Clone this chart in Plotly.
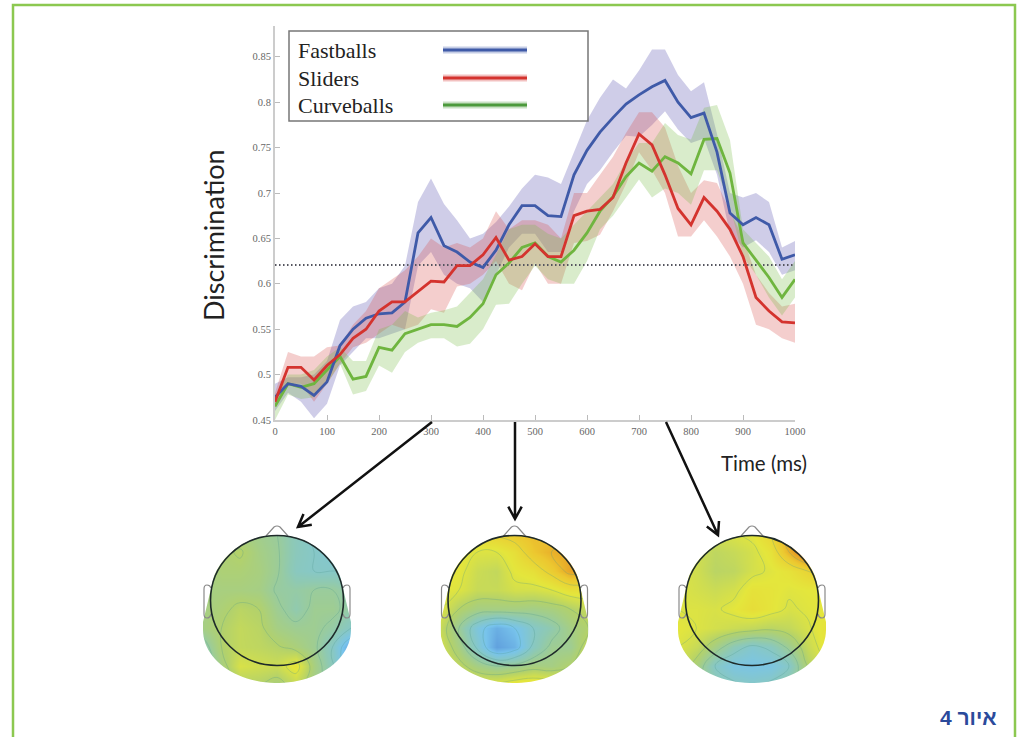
import numpy as np
import plotly.graph_objects as go

W, H = 1022, 737
times = list(range(0, 1001, 25))
fast_mean = [.475,.49,.487,.477,.492,.532,.55,.562,.567,.568,.58,.656,.673,.642,.635,.624,.618,.637,.665,.686,.686,.675,.674,.72,.747,.767,.783,.798,.808,.817,.824,.80,.783,.788,.745,.678,.665,.673,.665,.627,.632]
fast_up = [.49,.497,.497,.50,.515,.56,.575,.58,.595,.60,.62,.69,.716,.688,.67,.65,.655,.668,.685,.705,.72,.717,.71,.745,.78,.805,.825,.815,.835,.858,.858,.83,.812,.822,.765,.70,.695,.70,.69,.64,.647]
fast_lo = [.46,.48,.47,.452,.468,.51,.525,.54,.54,.545,.55,.62,.635,.61,.60,.595,.58,.61,.64,.655,.655,.635,.635,.68,.71,.725,.745,.763,.762,.775,.79,.77,.755,.76,.72,.655,.64,.648,.635,.61,.615]
slid_mean = [.47,.508,.508,.494,.51,.522,.54,.55,.57,.58,.58,.592,.603,.602,.62,.62,.632,.651,.626,.63,.644,.63,.63,.675,.68,.682,.695,.733,.765,.753,.72,.683,.665,.695,.68,.66,.63,.585,.57,.558,.557]
slid_up = [.48,.525,.52,.52,.53,.532,.555,.57,.595,.605,.615,.63,.65,.64,.645,.64,.65,.68,.66,.67,.67,.665,.65,.70,.70,.72,.74,.766,.789,.789,.772,.73,.70,.714,.711,.68,.65,.61,.59,.575,.578]
slid_lo = [.465,.49,.49,.47,.49,.512,.53,.535,.545,.555,.55,.555,.572,.568,.597,.60,.61,.625,.60,.593,.623,.60,.60,.645,.647,.654,.68,.71,.745,.725,.70,.652,.652,.67,.652,.63,.60,.555,.55,.54,.535]
curv_mean = [.465,.49,.486,.49,.505,.52,.495,.498,.53,.527,.545,.55,.555,.555,.553,.563,.578,.61,.623,.64,.645,.63,.624,.637,.656,.68,.696,.718,.733,.724,.74,.733,.721,.759,.76,.722,.645,.626,.607,.585,.605]
curv_up = [.475,.50,.50,.505,.52,.53,.515,.515,.55,.555,.57,.563,.568,.571,.575,.59,.605,.632,.66,.665,.665,.655,.65,.665,.68,.695,.71,.735,.755,.755,.777,.764,.759,.794,.797,.758,.66,.645,.63,.605,.625]
curv_lo = [.45,.478,.473,.475,.49,.512,.478,.482,.51,.502,.525,.535,.54,.54,.531,.534,.55,.577,.578,.60,.62,.605,.60,.60,.625,.66,.675,.695,.715,.695,.705,.70,.687,.725,.725,.685,.63,.61,.585,.565,.585]
chance_level = 0.6207

y_ticks = [.45,.5,.55,.6,.65,.7,.75,.8,.85]
y_tick_labels = ["0.45","0.5","0.55","0.6","0.65","0.7","0.75","0.8","0.85"]
x_ticks = list(range(0, 1001, 100))
legend_names = ["Fastballs", "Sliders", "Curveballs"]

# scalp maps: estimated colour level on a coarse grid (rows top to bottom)
scalp_dx = [-74,-55.5,-37,-18.5,0,18.5,37,55.5,74]
scalp_y = [533,552,571,590,609,628,647,666,685]
scalp_300 = [
 [4.5,4.5,4.5,4.3,4,3.3,2.8,2.2,2],
 [4.5,4.8,5.1,4.5,4.1,3.3,3,2.7,2.3],
 [4.5,4.8,4.8,4.6,4.1,3.2,3.0,3,3],
 [4.5,4.6,4.6,4.5,3.9,3.8,4,4,3.5],
 [4.5,4.8,5.2,5.0,4.2,3.6,4.2,4.2,3.7],
 [4.5,5.0,5.4,5.2,4.5,4.2,4.2,3.8,3],
 [3.5,5.0,5.4,5.3,5.1,4.7,4.2,3,1],
 [3,4.6,5.9,5.7,5.6,6.4,4.6,3.2,1.2],
 [3,4,5,5,4.6,5.4,4.4,3.5,3]]
scalp_450 = [
 [6.5,6.5,6.8,7.2,7.5,7.8,7.5,7.5,7],
 [6.5,6.3,6,6,6.5,7.5,8,8.2,7.8],
 [6.5,6.2,5.6,5.4,6.2,6.5,7.3,8.3,8.0],
 [6.3,6,5.5,5.5,5.8,5.8,6,6.5,6.5],
 [6,5,4.5,4.5,4.5,4.4,4.6,5,5.5],
 [5.5,4,2.4,1.4,2.0,3,3.6,4.5,5],
 [5.8,4.5,2.8,1.0,1.5,3.2,4.2,4.2,5.5],
 [6,5.3,4.5,4,4.2,4.6,4.5,5,6],
 [6.5,6.3,6,6.2,6.6,6.8,6.5,6,6]]
scalp_750 = [
 [6,6,5.8,6,6.2,7,8.5,9.5,8],
 [6,5.7,5.3,5.5,5.8,6.4,8,9.6,9.5],
 [6,5.7,5.2,5.3,5.8,6.1,6.4,7,7.5],
 [6,5.8,5.6,5.8,6.4,6.3,6.1,6.2,6.2],
 [6,6,5.9,6.2,6.6,6.3,5.9,6.1,6.2],
 [6.2,6,5.8,5.6,5.4,5.2,5.4,5.9,6.4],
 [6,5.5,4.5,3.4,2.8,3.2,4.2,5.5,6.4],
 [5.8,4.6,3,2.3,2.2,2.3,3,5,6],
 [5,4.3,3.6,3.2,3,3.2,3.8,4.6,5]]
scalp_cx = [277, 514.5, 752]

BLUE, RED, GREEN = "#3f5aa8", "#d4332e", "#6fb53f"
fig = go.Figure()

# bands
for up, lo, col in [(fast_up, fast_lo, "rgba(105,100,185,0.32)"),
                    (slid_up, slid_lo, "rgba(215,75,70,0.27)"),
                    (curv_up, curv_lo, "rgba(120,185,70,0.28)")]:
    fig.add_trace(go.Scatter(x=times + times[::-1], y=up + lo[::-1], mode="lines",
                             fill="toself", fillcolor=col, line=dict(width=0),
                             hoverinfo="skip", showlegend=False))
fig.add_trace(go.Scatter(x=[times[0], times[-1]], y=[chance_level]*2, mode="lines",
                         line=dict(color="#55555f", width=1.8, dash="1.5px 2.5px"), showlegend=False))
for mean, col, name in [(curv_mean, GREEN, legend_names[2]),
                        (fast_mean, BLUE, legend_names[0]),
                        (slid_mean, RED, legend_names[1])]:
    fig.add_trace(go.Scatter(x=times, y=mean, mode="lines", name=name,
                             line=dict(color=col, width=2.8), showlegend=False))

scale = [[0, "#4a7fd0"], [.2, "#78c4ec"], [.35, "#8ec9b4"], [.5, "#b2d16c"],
         [.62, "#e4e63c"], [.75, "#ecc830"], [.85, "#e69a24"], [1, "#a8430f"]]
for cx, z in zip(scalp_cx, [scalp_300, scalp_450, scalp_750]):
    fig.add_trace(go.Contour(x=[cx + d for d in scalp_dx], y=scalp_y, z=z, xaxis="x2", yaxis="y2",
                             colorscale=scale, zmin=0, zmax=10, showscale=False,
                             contours=dict(coloring="heatmap", start=0, end=10, size=1),
                             line=dict(color="rgba(80,150,140,0.28)", width=1, smoothing=1.2),
                             hoverinfo="skip"))

shapes = []
def head_path(cx):
    t = np.linspace(np.pi * 1.12, np.pi * 1.88, 50)
    top = [(cx + 68*np.cos(a), 601 + 66*np.sin(a)) for a in t]
    right = [(cx + 74, 622)]
    t2 = np.linspace(0, np.pi, 50)
    bot = [(cx + 74*np.cos(a), 630 + 53*np.sin(a)) for a in t2]
    left = [(cx - 74, 622)]
    pts = top + right + bot + left
    return "M" + " L".join(f"{x:.1f},{y:.1f}" for x, y in pts) + " Z"

for cx in scalp_cx:
    shapes.append(dict(type="path", xref="x2", yref="y2", fillrule="evenodd", layer="above",
                       path=f"M{cx-85},525 L{cx+85},525 L{cx+85},695 L{cx-85},695 Z " + head_path(cx),
                       fillcolor="white", line=dict(width=0)))
    # nose and ears
    shapes.append(dict(type="path", xref="x2", yref="y2", layer="above",
                       path=f"M{cx-11},536 L{cx-3},527 Q{cx},525 {cx+3},527 L{cx+11},536",
                       line=dict(color="#8a8a8a", width=1.2)))
    for s in (-1, 1):
        shapes.append(dict(type="path", xref="x2", yref="y2", layer="above",
                           path=f"M{cx+s*66},588 Q{cx+s*67},585 {cx+s*70},585 Q{cx+s*73},585 {cx+s*73},589 "
                                f"L{cx+s*73},614 Q{cx+s*73},618 {cx+s*70},618 Q{cx+s*67},618 {cx+s*66},614",
                           line=dict(color="#8a8a8a", width=1.2)))
    shapes.append(dict(type="circle", xref="x2", yref="y2", layer="above",
                       x0=cx-66.5, x1=cx+66.5, y0=535.5, y1=665.5,
                       line=dict(color="#1e2a2a", width=1.6)))

# page border
shapes.append(dict(type="path", xref="x2", yref="y2", layer="above",
                   path="M13,740 L13,5 L1015,5 L1015,740", line=dict(color="#8cc850", width=2.5)))
# legend box and samples
shapes.append(dict(type="rect", xref="x2", yref="y2", layer="above", x0=289, x1=588, y0=31, y1=121,
                   line=dict(color="#777777", width=1.5)))
annotations = []
for name, col, halo, yp in [(legend_names[0], BLUE, "rgba(63,90,168,0.3)", 50),
                            (legend_names[1], RED, "rgba(212,51,46,0.3)", 78),
                            (legend_names[2], "#4c9a3c", "rgba(76,154,60,0.3)", 105)]:
    shapes.append(dict(type="line", xref="x2", yref="y2", layer="above", x0=443, x1=527, y0=yp, y1=yp,
                       line=dict(color=halo, width=7)))
    shapes.append(dict(type="line", xref="x2", yref="y2", layer="above", x0=443, x1=527, y0=yp, y1=yp,
                       line=dict(color=col, width=3)))
    annotations.append(dict(x=296, y=yp, xref="x2", yref="y2", text=name, showarrow=False, xanchor="left",
                            yanchor="middle", font=dict(family="Liberation Serif", size=22, color="#222222")))

# arrows with open heads
for x0, y0, x1, y1 in [(432, 422, 298, 527), (515, 422, 515, 519), (666, 422, 718, 535)]:
    ang = np.arctan2(y0 - y1, x0 - x1)
    hx = [x1 + 14*np.cos(ang + d) for d in (0.5, -0.5)]
    hy = [y1 + 14*np.sin(ang + d) for d in (0.5, -0.5)]
    shapes.append(dict(type="path", xref="x2", yref="y2", layer="above",
                       path=f"M{x0},{y0} L{x1},{y1} M{hx[0]:.1f},{hy[0]:.1f} L{x1},{y1} L{hx[1]:.1f},{hy[1]:.1f}",
                       line=dict(color="#111111", width=2.5)))

annotations += [
    dict(x=213, y=235, xref="x2", yref="y2", text="Discrimination", textangle=-90, showarrow=False,
         font=dict(family="Lato", size=27, color="#222222")),
    dict(x=764, y=463, xref="x2", yref="y2", text="Time (ms)", showarrow=False,
         font=dict(family="Lato", size=20.5, color="#222222")),
    dict(x=999, y=717, xref="x2", yref="y2", text="<b>איור 4</b>", showarrow=False, xanchor="right",
         font=dict(family="Liberation Sans", size=21, color="#2b4a9b")),
]

axis_font = dict(family="Liberation Serif", size=10.5, color="#666666")
top_val = 0.45 + (420 - 26) / 908
fig.update_layout(
    width=W, height=H, margin=dict(l=0, r=0, t=0, b=0, autoexpand=False), autosize=False,
    paper_bgcolor="white", plot_bgcolor="rgba(0,0,0,0)", showlegend=False,
    shapes=shapes, annotations=annotations,
    xaxis=dict(domain=[275/W, 795/W], range=[0, 1000], tickvals=x_ticks, ticks="inside", ticklen=5,
               tickcolor="#bbbbbb", linecolor="#cccccc", linewidth=2, showline=True, showgrid=False,
               zeroline=False, tickfont=axis_font, anchor="y"),
    yaxis=dict(domain=[1 - 420/H, 1 - 26/H], range=[.45, top_val], tickvals=y_ticks, ticktext=y_tick_labels,
               ticks="inside", ticklen=5, tickcolor="#bbbbbb", linecolor="#cccccc", linewidth=2,
               showline=True, showgrid=False, zeroline=False, tickfont=axis_font, anchor="x"),
    xaxis2=dict(domain=[0, 1], range=[0, W], visible=False, anchor="y2"),
    yaxis2=dict(domain=[0, 1], range=[H, 0], visible=False, anchor="x2"),
)
fig.write_html("out.html", config=dict(displayModeBar=False),
               post_script="document.body.style.margin='0';document.body.style.overflow='hidden';")
